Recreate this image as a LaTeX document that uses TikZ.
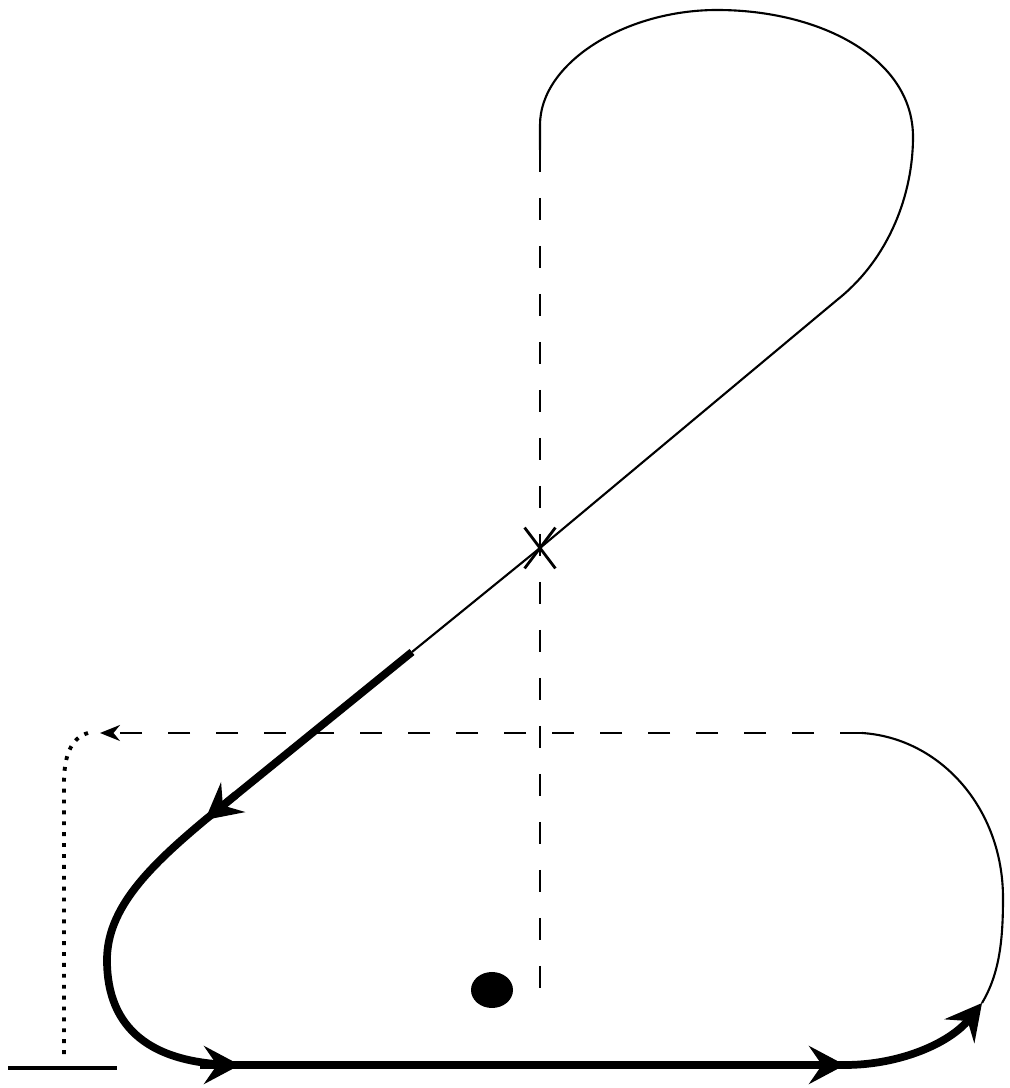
\documentclass[tikz,border=0pt]{standalone}
\usepackage{tikz}
\usetikzlibrary{positioning, arrows.meta, calc, shapes.geometric, shapes.misc}

\begin{document}
\begin{tikzpicture}[>=Stealth,
    thinpath/.style={line width=0.6pt},
    thickpath/.style={line width=2.2pt, -{Stealth[length=3.6mm, width=3.8mm, inset=1.3mm]}},
    guide/.style={line width=0.7pt, dash pattern=on 0.22cm off 0.26cm}]
    \useasboundingbox (0,0) rectangle (10.09,10.88);
    % Key points
    \coordinate (top) at (5.40,9.38);
    \coordinate (bend) at (8.37,7.88);
    \node[draw, cross out, line width=0.8pt, minimum width=0.28cm, minimum height=0.38cm] (cross) at (5.40,5.40) {};
    \coordinate (thickstart) at (4.12,4.36);
    \coordinate (tipA) at (2.05,2.68);
    \coordinate (left) at (1.07,1.28);
    \coordinate (tipB) at (2.40,0.23);
    \coordinate (tipC) at (8.45,0.23);
    \coordinate (tipD) at (9.82,0.85);
    \coordinate (right) at (10.03,1.90);
    \coordinate (hstart) at (8.62,3.55);
    \coordinate (hend) at (1.00,3.55);
    \coordinate (vend) at (5.40,0.88);
    % Upper loop (thin)
    \draw[thinpath] (top) -- (5.40,9.63) .. controls (5.40,10.25) and (6.25,10.78) .. (7.17,10.78)
        .. controls (8.20,10.78) and (9.13,10.30) .. (9.13,9.51)
        .. controls (9.13,8.95) and (8.90,8.30) .. (bend) -- (cross.center) -- (thickstart);
    % Thick part, one stroke
    \draw[thickpath] (thickstart) -- (tipA) .. controls (1.50,2.22) and (1.07,1.80) .. (left)
        .. controls (1.07,0.60) and (1.50,0.23) .. (tipB) -- (tipC)
        .. controls (9.00,0.23) and (9.50,0.45) .. (tipD);
    % Arrows along it
    \draw[thickpath] ($(tipA)!0.4cm!(thickstart)$) -- (tipA);
    \draw[thickpath] ($(tipB)+(-0.4,0)$) -- (tipB);
    \draw[thickpath] ($(tipC)+(-0.4,0)$) -- (tipC);
    % Right arc (thin)
    \draw[thinpath] (tipD) .. controls (10.00,1.15) and (10.03,1.50) .. (right)
        .. controls (10.03,2.80) and (9.40,3.50) .. (hstart);
    % Dashed guides
    \draw[guide, -{Stealth[length=2mm, width=1.6mm]}] (hstart) -- (hend);
    \draw[guide] (top) -- (vend);
    % Dotted drop and base line
    \coordinate (dotend) at (0.64,0.33);
    \draw[line width=1.1pt, dotted] (0.88,3.55) .. controls (0.70,3.50) and (0.64,3.30) .. (0.64,3.05) -- (dotend);
    \coordinate (baseL) at (0.08,0.20);
    \coordinate (baseR) at (1.17,0.20);
    \draw[line width=0.9pt] (baseL) -- (baseR);
    % Dot
    \node[ellipse, fill, minimum width=0.42cm, minimum height=0.36cm, inner sep=0pt] (dot) at (4.92,0.98) {};
\end{tikzpicture}
\end{document}
